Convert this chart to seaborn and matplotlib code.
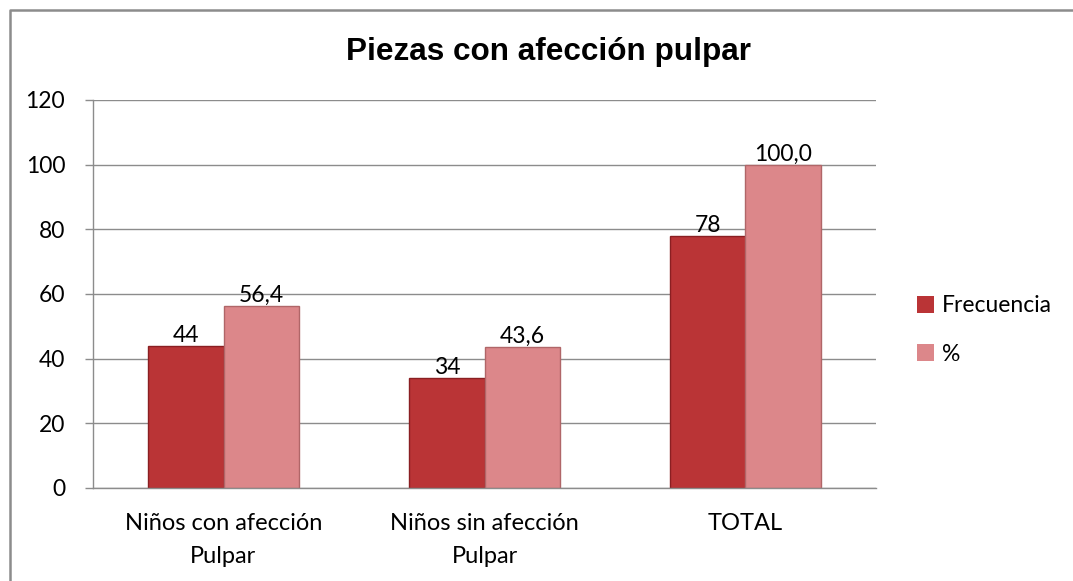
import pandas as pd
import matplotlib
matplotlib.use('Agg')
import matplotlib.pyplot as plt
from matplotlib.lines import Line2D
import seaborn as sns

# data
categorias = ['Niños con afección\nPulpar', 'Niños sin afección\nPulpar', 'TOTAL']
frecuencia = [44, 34, 78]
porcentaje = [56.4, 43.6, 100.0]
series = ['Frecuencia', '%']
etiquetas = [['44', '34', '78'], ['56,4', '43,6', '100,0']]

df = pd.DataFrame({
    'cat': categorias * 2,
    'valor': frecuencia + porcentaje,
    'serie': [series[0]] * 3 + [series[1]] * 3,
})

sns.set_style('white')
plt.rcParams['font.family'] = ['Lato', 'DejaVu Sans']
plt.rcParams['text.color'] = 'black'
plt.rcParams['xtick.color'] = 'black'
plt.rcParams['ytick.color'] = 'black'

fig = plt.figure(figsize=(10.73, 5.81), dpi=100)
ax = fig.add_axes([93 / 1073, 1 - 488 / 581, (876 - 93) / 1073, (488 - 100) / 581])

colores = {'Frecuencia': '#BA3436', '%': '#DC878A'}
bordes = ['#8A1F22', '#B06668']
sns.barplot(data=df, x='cat', y='valor', hue='serie', palette=colores,
            width=0.575, gap=0, ax=ax, edgecolor='none', saturation=1)

for cont, labs, bc in zip(ax.containers, etiquetas, bordes):
    for bar in cont:
        bar.set_edgecolor(bc)
        bar.set_linewidth(1.0)
    ax.bar_label(cont, labels=labs, fontsize=16.5, padding=0, color='black')

ax.set_ylim(0, 120)
ax.set_yticks(range(0, 121, 20))
ax.set_xlim(-0.5, 2.5)
ax.yaxis.grid(True, color='#8C8C8C', linewidth=1.0)
ax.set_axisbelow(True)
ax.set_xlabel('')
ax.set_ylabel('')
for s in ['top', 'right']:
    ax.spines[s].set_visible(False)
for s in ['left', 'bottom']:
    ax.spines[s].set_color('#8C8C8C')
    ax.spines[s].set_linewidth(1.0)

# tick marks at category boundaries on x
ax.set_xticks([0, 1, 2])
ax.set_xticklabels(categorias, fontsize=17, linespacing=1.7)
ax.set_xticks([-0.5, 0.5, 1.5, 2.5], minor=True)
ax.tick_params(axis='x', which='major', length=0, pad=18, labelcolor='black')
ax.tick_params(axis='x', which='minor', length=6, color='#8C8C8C', width=1)
ax.tick_params(axis='y', length=6, color='#8C8C8C', width=1, labelsize=16.5, pad=14,
               labelcolor='black')
ax.tick_params(left=True, bottom=True)

fig.text(548 / 1073, 1 - 52 / 581, 'Piezas con afección pulpar', fontsize=22.7,
         fontweight='bold', family=['Liberation Sans', 'DejaVu Sans'],
         ha='center', va='center', color='black')

leg = ax.legend(loc='center left', bbox_to_anchor=(1 + 41 / 783, (488 - 330) / 388),
                frameon=False, borderpad=0, borderaxespad=0,
                fontsize=16.5, handlelength=0.75, handleheight=0.75,
                handletextpad=0.35, labelspacing=1.2)
for t in leg.get_texts():
    t.set_color('black')

# outer chart border (only left and top edges fall inside the picture)
bx, by = 10 / 1073, 1 - 10 / 581
fig.lines.append(Line2D([bx, bx, 1], [0, by, by], transform=fig.transFigure,
                        color='#8C8C8C', linewidth=1.8))

fig.savefig('out.png', dpi=100)
